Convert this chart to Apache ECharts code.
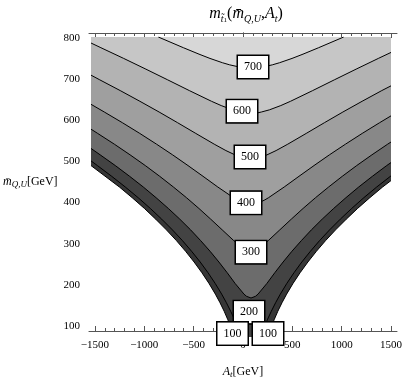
<!DOCTYPE html>
<html>
<head>
<meta charset="utf-8">
<script src="https://cdn.jsdelivr.net/npm/echarts@6/dist/echarts.min.js"></script>
<style>
  html, body { margin: 0; padding: 0; background: #fff; }
  #chart { width: 415px; height: 384px; }
</style>
</head>
<body>
<div id="chart"></div>
<script>
// contour levels of the light stop mass (GeV)
const levels = [0, 100, 200, 300, 400, 500, 600, 700]
// shade of the band just above each level
const bandColors = ['#363636', '#434343', '#6c6c6c', '#888888', '#9f9f9f', '#b3b3b3', '#c6c6c6', '#d7d7d7']

// contour curves, [A_t, mQU]
const c0 = [[-1500, 500], [-1216, 450], [-1088, 425], [-966, 400], [-853, 375], [-746, 350], [-646, 325], [-554, 300], [-469, 275], [-391, 250], [-320, 225], [-256, 200], [-210, 180], [-168, 160], [-131, 140], [-98, 120], [-69, 100],
  [269, 100], [298, 120], [331, 140], [368, 160], [410, 180], [456, 200], [520, 225], [591, 250], [669, 275], [754, 300], [846, 325], [946, 350], [1053, 375], [1166, 400], [1288, 425], [1416, 450], [1500, 465]]
const c100 = [[-1500, 511], [-1436, 500], [-1293, 475], [-1157, 450], [-1028, 425], [-907, 400], [-793, 375], [-686, 350], [-586, 325], [-494, 300], [-408, 275], [-330, 250], [-258, 225], [-193, 200], [-146, 180], [-103, 160], [-63, 140], [-26, 120], [8, 100],
  [192, 100], [226, 120], [263, 140], [303, 160], [346, 180], [393, 200], [458, 225], [530, 250], [608, 275], [694, 300], [786, 325], [886, 350], [993, 375], [1107, 400], [1228, 425], [1357, 450], [1500, 476]]
const c200 = [[-1500, 540], [-1408, 525], [-1257, 500], [-1114, 475], [-977, 450], [-849, 425], [-727, 400], [-612, 375], [-504, 350], [-404, 325], [-309, 300], [-221, 275], [-138, 250], [-59, 225], [30, 200], [55, 195], [100, 191],
  [145, 195], [170, 200], [259, 225], [338, 250], [421, 275], [509, 300], [604, 325], [704, 350], [812, 375], [927, 400], [1049, 425], [1177, 450], [1314, 475], [1457, 500], [1500, 507]]
const c300 = [[-1500, 585], [-1433, 575], [-1267, 550], [-1109, 525], [-957, 500], [-813, 475], [-676, 450], [-545, 425], [-421, 400], [-303, 375], [-188, 350], [-73, 325], [8, 310], [47, 305], [100, 302],
  [153, 305], [192, 310], [273, 325], [388, 350], [503, 375], [621, 400], [745, 425], [876, 450], [1013, 475], [1157, 500], [1309, 525], [1467, 550], [1500, 555]]
const c400 = [[-1500, 643], [-1367, 625], [-1186, 600], [-1012, 575], [-845, 550], [-684, 525], [-530, 500], [-380, 475], [-232, 450], [-75, 425], [-39, 420], [5, 415], [41, 412], [100, 410],
  [159, 412], [195, 415], [239, 420], [275, 425], [432, 450], [580, 475], [730, 500], [884, 525], [1045, 550], [1212, 575], [1386, 600], [1500, 616]]
const c500 = [[-1500, 711], [-1412, 700], [-1208, 675], [-1011, 650], [-819, 625], [-634, 600], [-452, 575], [-268, 550], [-151, 535], [-60, 525], [1, 520], [36, 518], [100, 516],
  [164, 518], [199, 520], [260, 525], [351, 535], [468, 550], [652, 575], [834, 600], [1019, 625], [1211, 650], [1408, 675], [1500, 686]]
const c600 = [[-1500, 786], [-1401, 775], [-1173, 750], [-951, 725], [-733, 700], [-517, 675], [-295, 650], [-198, 640], [-84, 630], [-4, 625], [33, 623], [100, 622],
  [167, 623], [204, 625], [284, 630], [398, 640], [495, 650], [717, 675], [933, 700], [1151, 725], [1373, 750], [1500, 764]]
const c700 = [[-827, 800], [-576, 775], [-420, 760], [-310, 750], [-186, 740], [-113, 735], [-36, 731], [22, 729], [100, 728],
  [179, 729], [236, 731], [313, 735], [386, 740], [510, 750], [620, 760], [776, 775], [1027, 800]]
const contours = [c0, c100, c200, c300, c400, c500, c600, c700]

// contour labels: where they sit, and what they say
const labelPos = [[120, 730], [10, 627], [90, 520], [50, 413], [100, 298], [80, 158], [-85, 108], [270, 108]]
const labelText = ['700', '600', '500', '400', '300', '200', '100', '100']

const xTicks = [-1500, -1000, -500, 0, 500, 1000, 1500]
const yTicks = [100, 200, 300, 400, 500, 600, 700, 800]

const xMin = -1500, xMax = 1500, yMin = 100, yMax = 800

// minor ticks, 5 per major step
function minorTicks(ticks) {
  const step = (ticks[1] - ticks[0]) / 5
  const out = []
  for (let v = ticks[0]; v <= ticks[ticks.length - 1] + 1e-6; v += step) out.push(Math.round(v))
  return out
}

// fill polygon: close the curve along the plot top
function fillData(c) {
  const d = c.slice()
  if (d[0][0] > xMin) d.unshift([xMin, yMax])
  if (d[d.length - 1][0] < xMax) d.push([xMax, yMax])
  return d
}

// stroke: break where the curve runs along the bottom edge
function lineData(c) {
  const d = []
  c.forEach((p, i) => {
    if (i > 0 && p[1] === yMin && c[i - 1][1] === yMin) d.push(['-', '-'])
    d.push(p)
  })
  return d
}

const serif = 'Liberation Serif'
const frameColor = '#555'
const minus = v => String(v).replace('-', '\u2212')

const myChart = echarts.init(document.getElementById('chart'))

const series = []
contours.forEach((c, i) => {
  series.push({
    type: 'line',
    xAxisIndex: 0,
    yAxisIndex: 0,
    data: fillData(c),
    symbol: 'none',
    silent: true,
    lineStyle: { opacity: 0 },
    areaStyle: { color: bandColors[i], opacity: 1, origin: 'end' },
    z: 1
  })
})
contours.forEach((c, i) => {
  series.push({
    type: 'line',
    name: 'level ' + levels[i],
    xAxisIndex: 0,
    yAxisIndex: 0,
    data: lineData(c),
    symbol: 'none',
    silent: true,
    connectNulls: false,
    lineStyle: { color: '#000', width: 1 },
    z: 2
  })
})
series.push({
  type: 'scatter',
  xAxisIndex: 0,
  yAxisIndex: 0,
  data: labelPos,
  symbolSize: 1,
  silent: true,
  clip: false,
  z: 5,
  itemStyle: { opacity: 0 },
  label: {
    show: true,
    position: 'inside',
    formatter: p => labelText[p.dataIndex],
    fontFamily: serif,
    fontSize: 12,
    lineHeight: 13,
    color: '#000',
    opacity: 1,
    textBorderWidth: 0,
    backgroundColor: '#fff',
    borderColor: '#000',
    borderWidth: 1.5,
    padding: [5, 6, 4, 6]
  }
})

const subStyle = { fontFamily: serif, fontStyle: 'italic', fontSize: 9, lineHeight: 9, verticalAlign: 'bottom', color: '#000' }

function frameX(position, major) {
  return {
    gridIndex: 1, type: 'value', min: -1560, max: 1560, position: position,
    axisLine: { show: major, lineStyle: { color: frameColor, width: 1 } },
    axisTick: { show: true, inside: true, length: major ? 5 : 3, customValues: major ? xTicks : minorTicks(xTicks), lineStyle: { color: frameColor } },
    axisLabel: { show: major && position === 'bottom', customValues: xTicks, formatter: minus, fontFamily: serif, fontSize: 11, color: '#000', margin: 9 },
    splitLine: { show: false }
  }
}
function frameY(position, major) {
  return {
    gridIndex: 1, type: 'value', min: 100 - 35 / 3, max: 800 + 35 / 3, position: position,
    axisLine: { show: major, lineStyle: { color: frameColor, width: 1 } },
    axisTick: { show: true, inside: true, length: major ? 5 : 3, customValues: major ? yTicks : minorTicks(yTicks), lineStyle: { color: frameColor } },
    axisLabel: { show: major && position === 'left', customValues: yTicks, fontFamily: serif, fontSize: 11, color: '#000', margin: 9 },
    splitLine: { show: false }
  }
}

const nameRich = {
  i: { fontFamily: serif, fontStyle: 'italic', fontSize: 12, lineHeight: 15, color: '#000' },
  s: subStyle,
  n: { fontFamily: serif, fontSize: 12, lineHeight: 15, color: '#000' }
}

const xName = frameX('bottom', true)
Object.assign(xName, {
  name: '{i|A}{s|t}{n|[GeV]}',
  nameLocation: 'middle',
  nameGap: 33,
  nameTextStyle: { rich: nameRich }
})
const yName = frameY('left', true)
Object.assign(yName, {
  name: '{i|m\u0304}{s|Q,U}{n|[GeV]}',
  nameLocation: 'middle',
  nameRotate: 0,
  nameGap: 31,
  nameTextStyle: { rich: nameRich }
})

const option = {
  animation: false,
  backgroundColor: '#fff',
  title: {
    text: '{i|m}{s|t\u0303}{t|1}{p|(}{i|m\u0304}{s|Q,U}{p|,}{i|A}{s|t}{p|)}',
    left: 241,
    top: -1,
    textAlign: 'center',
    textStyle: {
      fontWeight: 'normal',
      rich: {
        i: { fontFamily: serif, fontStyle: 'italic', fontWeight: 'normal', fontSize: 16, lineHeight: 20, color: '#000' },
        p: { fontFamily: serif, fontWeight: 'normal', fontSize: 16, lineHeight: 20, color: '#000' },
        s: { fontFamily: serif, fontStyle: 'italic', fontWeight: 'normal', fontSize: 10, lineHeight: 10, verticalAlign: 'bottom', color: '#000' },
        t: { fontFamily: serif, fontWeight: 'normal', fontSize: 7, lineHeight: 6, verticalAlign: 'bottom', color: '#000' }
      }
    }
  },
  grid: [
    { left: 91, top: 37, width: 300, height: 300 },
    { left: 85, top: 33, width: 312, height: 310 }
  ],
  xAxis: [
    { gridIndex: 0, type: 'value', min: xMin, max: xMax, show: false },
    xName,
    frameX('bottom', false),
    frameX('top', true),
    frameX('top', false)
  ],
  yAxis: [
    { gridIndex: 0, type: 'value', min: yMin, max: yMax, show: false },
    yName,
    frameY('left', false),
    frameY('right', true),
    frameY('right', false)
  ],
  series: series
}

myChart.setOption(option)
</script>
</body>
</html>
